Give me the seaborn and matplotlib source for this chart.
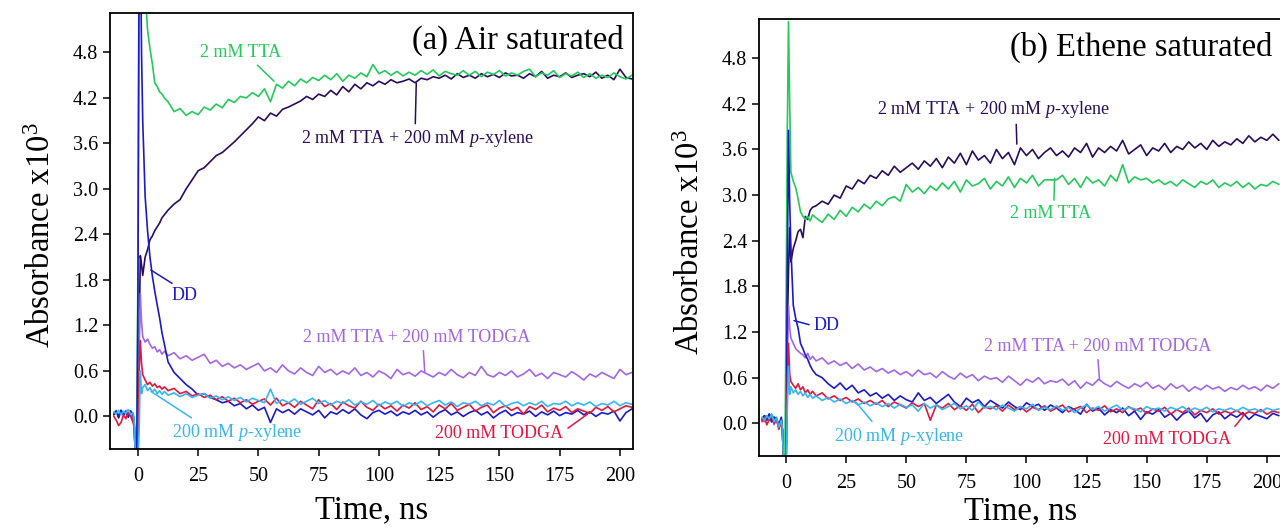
import numpy as np
import pandas as pd
import matplotlib
matplotlib.use('Agg')
import matplotlib.pyplot as plt
import seaborn as sns

# time grid (ns): dense around the laser pulse, then every 2.5 ns
t_early = [-10, -9, -8, -7, -6, -5, -4, -3, -2, -1.5,
           -1, -0.5, 0, 0.5, 1, 1.5, 2, 3, 4, 5,
           6, 7, 8, 9, 10, 11]
t_late = np.arange(12.5, 205.01, 2.5)
time = np.concatenate([t_early, t_late])

# ---------- (a) Air saturated ----------
a_tta = [0.05, 0.08, 0.02, 0.06, 0.03, 0.07, 0.01, 0.06, 0.04, -0.10,
         -0.6, -0.6, 2.0, 6.5, 7.0, 7.0, 6.5, 5.6, 5.1, 4.85,
         4.65, 4.40, 4.35, 4.28, 4.25, 4.20,
         4.15, 4.02, 4.06, 3.97, 4.02, 3.98, 4.08, 4.04, 4.12, 4.07,
         4.18, 4.14, 4.22, 4.20, 4.27, 4.22, 4.32, 4.15, 4.38, 4.33,
         4.42, 4.36, 4.45, 4.40, 4.47, 4.43, 4.50, 4.44, 4.52, 4.42,
         4.50, 4.46, 4.53, 4.48, 4.64, 4.52, 4.56, 4.50, 4.55, 4.49,
         4.54, 4.50, 4.56, 4.51, 4.57, 4.49, 4.55, 4.52, 4.50, 4.56,
         4.50, 4.55, 4.48, 4.54, 4.51, 4.56, 4.49, 4.53, 4.50, 4.55,
         4.58, 4.48, 4.53, 4.50, 4.56, 4.47, 4.52, 4.49, 4.54, 4.47,
         4.52, 4.46, 4.50, 4.47, 4.53, 4.48, 4.45, 4.50]
a_tta_xyl = [0.02, 0.06, -0.02, 0.08, 0.03, 0.05, -0.01, 0.07, 0.02, -0.10,
             -0.6, -0.6, -0.6, 1.0, 2.12, 2.0, 1.86, 2.10, 2.20, 2.33,
             2.38, 2.45, 2.50, 2.55, 2.62, 2.66,
             2.72, 2.80, 2.86, 3.00, 3.12, 3.24, 3.28, 3.36, 3.44, 3.48,
             3.55, 3.62, 3.70, 3.78, 3.86, 3.95, 3.90, 4.00, 3.96, 4.05,
             4.08, 4.12, 4.16, 4.22, 4.18, 4.25, 4.22, 4.30, 4.24, 4.35,
             4.28, 4.38, 4.32, 4.40, 4.36, 4.42, 4.38, 4.44, 4.40, 4.42,
             4.45, 4.40, 4.46, 4.44, 4.48, 4.46, 4.50, 4.45, 4.52, 4.47,
             4.50, 4.46, 4.52, 4.48, 4.51, 4.47, 4.53, 4.49, 4.50, 4.46,
             4.52, 4.48, 4.55, 4.46, 4.50, 4.48, 4.53, 4.47, 4.50, 4.52,
             4.48, 4.54, 4.46, 4.50, 4.44, 4.58, 4.47, 4.45]
a_tta_todga = [0.04, 0.07, 0.01, 0.06, 0.03, 0.08, 0.02, 0.05, -0.05, -0.12,
               -0.6, -0.6, -0.6, 0.9, 1.62, 1.25, 1.05, 0.98, 1.02, 0.95,
               0.90, 0.92, 0.85, 0.88, 0.82, 0.86,
               0.80, 0.84, 0.76, 0.80, 0.74, 0.78, 0.82, 0.70, 0.74, 0.66,
               0.70, 0.64, 0.68, 0.62, 0.66, 0.70, 0.60, 0.64, 0.58, 0.68,
               0.60, 0.56, 0.64, 0.58, 0.54, 0.66, 0.58, 0.62, 0.55, 0.60,
               0.56, 0.64, 0.54, 0.58, 0.52, 0.60, 0.56, 0.50, 0.62, 0.55,
               0.58, 0.53, 0.60, 0.56, 0.52, 0.58, 0.54, 0.62, 0.55, 0.51,
               0.58, 0.54, 0.66, 0.55, 0.52, 0.58, 0.54, 0.60, 0.52, 0.56,
               0.62, 0.53, 0.57, 0.50, 0.58, 0.55, 0.52, 0.59, 0.54, 0.48,
               0.56, 0.52, 0.58, 0.54, 0.50, 0.62, 0.55, 0.58]
a_dd = [0.03, 0.07, 0.00, 0.08, 0.02, 0.06, 0.00, 0.07, 0.03, -0.15,
        -0.6, -0.6, 1.5, 6.0, 6.5, 4.8, 3.9, 2.9, 2.45, 2.10,
        1.85, 1.65, 1.47, 1.30, 1.10, 0.95,
        0.72, 0.58, 0.50, 0.42, 0.36, 0.28, 0.30, 0.25, 0.22, 0.18,
        0.20, 0.14, 0.17, 0.10, 0.15, 0.08, 0.12, -0.08, 0.10, 0.05,
        0.09, 0.03, 0.10, 0.06, 0.02, 0.08, -0.02, 0.06, 0.03, 0.09,
        0.04, 0.10, 0.02, -0.03, 0.05, 0.08, 0.03, 0.07, 0.01, 0.06,
        0.03, 0.08, 0.02, 0.06, -0.01, 0.05, 0.09, 0.02, 0.06, 0.00,
        0.05, 0.08, 0.02, 0.06, -0.02, 0.04, 0.08, 0.01, 0.05, 0.03,
        0.07, 0.00, 0.06, 0.02, 0.07, 0.01, 0.05, 0.03, 0.08, 0.02,
        0.06, 0.00, 0.05, 0.03, 0.07, -0.06, 0.05, 0.10]
a_todga = [0.00, -0.05, -0.12, -0.08, 0.02, -0.03, 0.05, 0.00, -0.08, -0.15,
           -0.6, -0.6, -0.6, 0.6, 1.0, 0.70, 0.55, 0.48, 0.42, 0.45,
           0.40, 0.43, 0.38, 0.40, 0.36, 0.39,
           0.34, 0.37, 0.30, 0.33, 0.27, 0.30, 0.25, 0.28, 0.22, 0.26,
           0.20, 0.24, 0.18, 0.22, 0.16, 0.20, 0.23, 0.15, 0.24, 0.14,
           0.18, 0.12, 0.20, 0.15, 0.10, 0.22, 0.13, 0.17, 0.09, 0.19,
           0.14, 0.11, 0.20, 0.12, 0.08, 0.16, 0.10, 0.14, 0.07, 0.15,
           0.11, 0.18, 0.09, 0.13, 0.06, 0.15, 0.10, 0.17, 0.08, 0.12,
           0.16, 0.07, 0.12, 0.15, 0.05, 0.11, 0.14, 0.08, 0.12, 0.03,
           0.13, 0.09, 0.15, 0.06, 0.11, 0.08, 0.13, 0.05, 0.10, 0.07,
           0.04, 0.12, 0.08, 0.13, 0.06, 0.10, 0.14, 0.12]
a_xyl = [0.06, 0.03, 0.08, 0.02, 0.07, 0.04, 0.09, 0.03, 0.05, -0.08,
         -0.6, -0.6, -0.6, -0.2, 0.60, 0.30, 0.38, 0.42, 0.34, 0.38,
         0.32, 0.36, 0.30, 0.34, 0.29, 0.33,
         0.28, 0.31, 0.26, 0.30, 0.25, 0.28, 0.30, 0.24, 0.27, 0.22,
         0.26, 0.21, 0.25, 0.19, 0.24, 0.21, 0.18, 0.36, 0.17, 0.22,
         0.18, 0.23, 0.16, 0.20, 0.24, 0.17, 0.21, 0.15, 0.20, 0.17,
         0.22, 0.15, 0.19, 0.16, 0.21, 0.14, 0.19, 0.16, 0.20, 0.13,
         0.18, 0.15, 0.20, 0.14, 0.18, 0.21, 0.15, 0.19, 0.13, 0.18,
         0.16, 0.20, 0.14, 0.18, 0.15, 0.21, 0.13, 0.17, 0.19, 0.14,
         0.18, 0.15, 0.20, 0.13, 0.17, 0.16, 0.20, 0.14, 0.18, 0.15,
         0.19, 0.13, 0.17, 0.15, 0.20, 0.14, 0.18, 0.16]

# ---------- (b) Ethene saturated ----------
b_tta = [0.08, 0.05, 0.10, 0.06, 0.12, 0.04, 0.08, -0.04, 0.06, -0.10,
         -0.6, -0.6, 1.5, 3.8, 5.28, 4.2, 3.3, 3.18, 3.10, 2.95,
         2.78, 2.72, 2.68, 2.72, 2.66, 2.74,
         2.70, 2.64, 2.75, 2.68, 2.80, 2.72, 2.84, 2.78, 2.88, 2.82,
         2.92, 2.86, 2.95, 2.98, 2.92, 3.14, 3.04, 3.10, 3.02, 3.12,
         3.06, 3.16, 3.08, 3.18, 3.04, 3.20, 3.12, 3.15, 3.22, 3.08,
         3.18, 3.12, 3.24, 3.10, 3.22, 3.16, 3.26, 3.12, 3.20, 3.20,
         3.20, 3.26, 3.14, 3.22, 3.10, 3.24, 3.16, 3.20, 3.12, 3.26,
         3.18, 3.40, 3.16, 3.24, 3.20, 3.22, 3.16, 3.20, 3.14, 3.18,
         3.12, 3.20, 3.15, 3.10, 3.18, 3.14, 3.20, 3.10, 3.16, 3.12,
         3.18, 3.10, 3.16, 3.08, 3.14, 3.12, 3.18, 3.14]
b_tta_xyl = [0.06, 0.10, 0.04, 0.12, 0.02, 0.08, 0.05, -0.06, 0.06, -0.08,
             -0.6, -0.6, -0.6, 1.2, 2.0, 2.57, 2.12, 2.30, 2.40, 2.52,
             2.55, 2.44, 2.72, 2.68, 2.80, 2.84,
             2.86, 2.92, 2.88, 3.00, 2.96, 3.12, 3.08, 3.20, 3.15, 3.26,
             3.22, 3.32, 3.26, 3.38, 3.30, 3.36, 3.42, 3.34, 3.45, 3.38,
             3.48, 3.36, 3.50, 3.42, 3.55, 3.40, 3.58, 3.46, 3.52, 3.42,
             3.60, 3.48, 3.56, 3.40, 3.62, 3.52, 3.60, 3.48, 3.56, 3.62,
             3.52, 3.58, 3.50, 3.62, 3.56, 3.68, 3.50, 3.62, 3.56, 3.64,
             3.58, 3.72, 3.54, 3.60, 3.66, 3.52, 3.62, 3.58, 3.68, 3.56,
             3.64, 3.60, 3.70, 3.62, 3.68, 3.60, 3.72, 3.64, 3.70, 3.66,
             3.74, 3.68, 3.78, 3.70, 3.76, 3.72, 3.80, 3.72]
b_tta_todga = [0.05, 0.02, 0.08, 0.04, 0.10, -0.02, 0.06, -0.04, 0.02, -0.10,
               -0.6, -0.6, -0.6, 0.8, 1.55, 1.25, 1.12, 1.05, 0.98, 0.95,
               0.92, 0.90, 0.86, 0.92, 0.84, 0.88,
               0.82, 0.86, 0.78, 0.82, 0.76, 0.80, 0.72, 0.78, 0.70, 0.74,
               0.68, 0.72, 0.66, 0.70, 0.64, 0.68, 0.62, 0.70, 0.64, 0.66,
               0.60, 0.68, 0.62, 0.58, 0.66, 0.60, 0.64, 0.56, 0.62, 0.58,
               0.60, 0.54, 0.62, 0.56, 0.50, 0.58, 0.54, 0.60, 0.52, 0.56,
               0.54, 0.58, 0.50, 0.56, 0.46, 0.54, 0.50, 0.58, 0.52, 0.48,
               0.55, 0.50, 0.46, 0.52, 0.48, 0.54, 0.46, 0.50, 0.44, 0.52,
               0.46, 0.50, 0.42, 0.48, 0.44, 0.50, 0.45, 0.48, 0.42, 0.47,
               0.44, 0.50, 0.45, 0.48, 0.43, 0.50, 0.46, 0.52]
b_dd = [0.04, 0.10, 0.06, 0.12, 0.02, 0.08, 0.06, -0.02, 0.08, -0.10,
        -0.6, -0.6, -0.6, 2.0, 3.85, 2.9, 2.3, 1.55, 1.38, 1.25,
        1.05, 0.98, 0.90, 0.84, 0.76, 0.70,
        0.64, 0.60, 0.52, 0.46, 0.53, 0.44, 0.50, 0.40, 0.44, 0.36,
        0.40, 0.33, 0.38, 0.30, 0.36, 0.31, 0.28, 0.40, 0.30, 0.34,
        0.26, 0.32, 0.38, 0.28, 0.22, 0.33, 0.27, 0.31, 0.22, 0.30,
        0.25, 0.20, 0.28, 0.22, 0.18, 0.27, 0.22, 0.25, 0.17, 0.24,
        0.20, 0.14, 0.22, 0.18, 0.12, 0.25, 0.16, 0.20, 0.11, 0.18,
        0.14, 0.20, 0.10, 0.16, 0.05, 0.15, 0.12, 0.18, 0.08, 0.13,
        0.04, 0.12, 0.16, 0.07, 0.13, 0.02, 0.11, 0.15, 0.06, 0.12,
        0.08, 0.14, 0.05, 0.12, 0.09, 0.06, 0.13, 0.10]
b_todga = [0.02, 0.08, -0.02, 0.05, 0.10, 0.00, 0.06, -0.08, 0.02, -0.12,
           -0.6, -0.6, -0.6, 0.5, 1.05, 0.65, 0.55, 0.50, 0.46, 0.52,
           0.44, 0.48, 0.40, 0.44, 0.38, 0.42,
           0.36, 0.40, 0.32, 0.36, 0.30, 0.34, 0.28, 0.32, 0.26, 0.30,
           0.25, 0.30, 0.22, 0.28, 0.24, 0.20, 0.27, 0.22, 0.26, 0.04,
           0.24, 0.20, 0.26, 0.18, 0.23, 0.17, 0.25, 0.14, 0.22, 0.19,
           0.23, 0.16, 0.24, 0.18, 0.22, 0.15, 0.21, 0.18, 0.23, 0.16,
           0.20, 0.24, 0.15, 0.19, 0.22, 0.14, 0.20, 0.17, 0.23, 0.15,
           0.19, 0.14, 0.22, 0.17, 0.20, 0.13, 0.19, 0.16, 0.21, 0.12,
           0.18, 0.14, 0.20, 0.11, 0.17, 0.14, 0.19, 0.12, 0.16, 0.13,
           0.17, 0.11, 0.15, 0.13, 0.18, 0.12, 0.16, 0.14]
b_xyl = [0.08, 0.04, 0.10, 0.06, 0.12, 0.02, 0.07, -0.05, 0.04, -0.08,
         -0.6, -0.6, -0.6, 0.2, 0.75, 0.38, 0.48, 0.40, 0.44, 0.38,
         0.42, 0.36, 0.40, 0.34, 0.38, 0.33,
         0.36, 0.30, 0.34, 0.28, 0.32, 0.26, 0.30, 0.24, 0.28, 0.23,
         0.27, 0.22, 0.26, 0.20, 0.25, 0.21, 0.24, 0.16, 0.26, 0.20,
         0.24, 0.18, 0.22, 0.26, 0.19, 0.23, 0.17, 0.28, 0.20, 0.22,
         0.18, 0.24, 0.20, 0.16, 0.22, 0.19, 0.25, 0.17, 0.21, 0.18,
         0.23, 0.17, 0.21, 0.14, 0.20, 0.24, 0.18, 0.22, 0.16, 0.20,
         0.24, 0.17, 0.21, 0.19, 0.15, 0.22, 0.18, 0.20, 0.16, 0.21,
         0.18, 0.22, 0.16, 0.20, 0.17, 0.21, 0.15, 0.19, 0.17, 0.20,
         0.16, 0.21, 0.17, 0.19, 0.15, 0.20, 0.17, 0.19]

samples = ['TTA + p-xylene', 'TTA', 'TTA + TODGA', 'DD', 'TODGA', 'p-xylene']
colors = {'TTA + p-xylene': '#2b0c5c', 'TTA': '#24c95a', 'TTA + TODGA': '#a266e6',
          'DD': '#1a1acb', 'TODGA': '#e3173e', 'p-xylene': '#35b6f4'}

def long_df(series):
    frames = []
    for name, vals in zip(samples, series):
        frames.append(pd.DataFrame({'time': time, 'absorbance': vals, 'sample': name}))
    return pd.concat(frames, ignore_index=True)

df_a = long_df([a_tta_xyl, a_tta, a_tta_todga, a_dd, a_todga, a_xyl])
df_b = long_df([b_tta_xyl, b_tta, b_tta_todga, b_dd, b_todga, b_xyl])

sns.set_style('ticks')
plt.rcParams['font.family'] = ['Liberation Serif', 'DejaVu Serif']
plt.rcParams['mathtext.fontset'] = 'custom'
plt.rcParams['mathtext.rm'] = 'Liberation Serif'
plt.rcParams['mathtext.it'] = 'Liberation Serif:italic'
plt.rcParams['axes.linewidth'] = 1.3
plt.rcParams['axes.edgecolor'] = 'black'
plt.rcParams['text.color'] = 'black'
plt.rcParams['axes.labelcolor'] = 'black'
plt.rcParams['xtick.color'] = 'black'
plt.rcParams['ytick.color'] = 'black'

fig = plt.figure(figsize=(12.8, 5.29), dpi=100)
ax1 = fig.add_axes([0.0859, 0.1512, 0.4086, 0.8242])
ax2 = fig.add_axes([0.593, 0.138, 0.408, 0.8268])

XYL = r'200 mM $\it{p}$-xylene'
notes_a = [
    ('2 mM TTA', 'TTA', (42.7, 4.80), (0.65, 0.0), (56.5, 4.42)),
    ('2 mM TTA + ' + XYL, 'TTA + p-xylene', (116, 3.66), (0.49, 1.0), (115.5, 4.40)),
    ('DD', 'DD', (19.5, 1.59), (0.25, 1.0), (5.4, 1.93)),
    ('2 mM TTA + 200 mM TODGA', 'TTA + TODGA', (115.5, 1.04), (0.53, 0.0), (119, 0.59)),
    (XYL, 'p-xylene', (41, -0.21), (0.2, 1.0), (5.4, 0.33)),
    ('200 mM TODGA', 'TODGA', (150, -0.22), (1.0, 0.6), (186.5, 0.03)),
]
notes_b = [
    ('2 mM TTA + ' + XYL, 'TTA + p-xylene', (86, 4.13), (0.6, 0.0), (96, 3.67)),
    ('2 mM TTA', 'TTA', (110, 2.76), (0.54, 1.0), (111.7, 3.22)),
    ('DD', 'DD', (11.5, 1.28), (0.0, 0.5), (3.3, 1.35)),
    ('2 mM TTA + 200 mM TODGA', 'TTA + TODGA', (129.6, 1.01), (0.5, 0.0), (130.4, 0.57)),
    (XYL, 'p-xylene', (47, -0.17), (0.32, 1.0), (29, 0.28)),
    ('200 mM TODGA', 'TODGA', (158.5, -0.21), (0.97, 0.7), (190.8, 0.12)),
]

panels = [(ax1, df_a, notes_a, '(a) Air saturated', (-11.6, 205.4), 0.937, -0.105),
          (ax2, df_b, notes_b, '(b) Ethene saturated', (-11.25, 206.0), 0.935, -0.092)]

for ax, df, notes, title, xlim, ty, xl_y in panels:
    sns.lineplot(data=df, x='time', y='absorbance', hue='sample', hue_order=samples,
                 palette=colors, estimator=None, sort=False, legend=False,
                 linewidth=1.2, ax=ax)
    ax.set_xlim(*xlim)
    ax.set_ylim(-0.43, 5.32)
    ax.set_xticks(np.arange(0, 201, 25))
    ax.set_yticks(np.arange(0, 4.81, 0.6))
    ax.set_yticklabels([f'{v:.1f}' for v in np.arange(0, 4.81, 0.6)])
    ax.tick_params(axis='both', direction='out', length=5, width=1.1, labelsize=14.5, color='black')
    ax.tick_params(axis='x', pad=8)
    ax.tick_params(axis='y', pad=3.5)
    ax.set_xlabel('Time, ns', fontsize=23.5)
    ax.set_ylabel(r'Absorbance x10$^3$', fontsize=23.5)
    ax.xaxis.set_label_coords(0.5, xl_y)
    ax.yaxis.set_label_coords(-0.101, 0.49)
    ax.text(0.983, ty, title, transform=ax.transAxes, ha='right', va='center', fontsize=23.5)
    for label, key, xyt, rel, xy in notes:
        c = colors[key]
        if key == 'DD' and ax is ax2:
            ha = 'left'
        else:
            ha = 'center'
        ax.annotate(label, xy=xy, xytext=xyt, textcoords='data', ha=ha, va='center',
                    fontsize=13, color=c,
                    arrowprops=dict(arrowstyle='-', color=c, lw=1.1, shrinkA=1, shrinkB=0,
                                    relpos=rel))

fig.savefig('out.png', dpi=100)
